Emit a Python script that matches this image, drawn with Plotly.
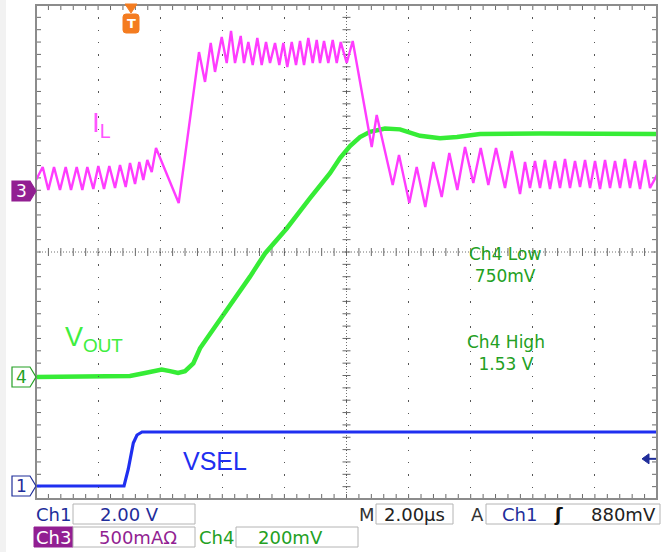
import plotly.graph_objects as go

# ---------------- data (time in µs, 0 = trigger; 2 µs/div) ----------------
time_range = [-3.06, 16.94]

# Ch1 : VSEL (V)
vsel_t = [-3.06, -0.225, -0.087, 0.074, 0.193, 0.354, 16.94]
vsel_v = [0.0, 0.0, 0.551, 1.393, 1.652, 1.749, 1.749]

# Ch4 : VOUT (V)
vout_t = [-3.06, -0.032, 0.451, 0.989, 1.256, 1.514, 1.739, 2.006, 2.222, 2.599,
          2.973, 3.832, 4.316, 5.014, 5.765, 6.409, 6.731, 7.053, 7.375, 7.697,
          8.18, 8.663, 9.308, 9.952, 10.499, 11.24, 13.172, 16.94]
vout_v = [0.750, 0.753, 0.763, 0.774, 0.769, 0.763, 0.769, 0.794, 0.843, 0.897,
          0.951, 1.075, 1.150, 1.231, 1.329, 1.410, 1.459, 1.498, 1.527, 1.544,
          1.555, 1.552, 1.531, 1.523, 1.527, 1.537, 1.539, 1.537]

# Ch3 : IL (A)
il_t = [-3.06, -2.844, -2.663, -2.48, -2.287, -2.103, -1.932, -1.749, -1.568, -1.407,
        -1.214, -1.053, -0.87, -0.699, -0.515, -0.354, -0.171, -0.032, 0.129, 0.267,
        0.396, 0.525, 0.667, 0.805, 1.536, 2.19, 2.383, 2.567, 2.705, 2.921,
        3.082, 3.221, 3.349, 3.533, 3.639, 3.778, 3.919, 4.068, 4.209, 4.348,
        4.477, 4.638, 4.776, 4.905, 5.034, 5.176, 5.314, 5.443, 5.572, 5.71,
        5.852, 5.981, 6.087, 6.216, 6.354, 6.496, 6.625, 6.754, 6.947, 7.14,
        7.752, 7.913, 8.428, 8.631, 8.963, 9.201, 9.478, 9.736, 10.006, 10.251,
        10.509, 10.757, 11.024, 11.262, 11.507, 11.755, 12.045, 12.261, 12.528, 12.689,
        12.85, 13.011, 13.172, 13.333, 13.494, 13.655, 13.816, 13.977, 14.138, 14.299,
        14.46, 14.622, 14.783, 14.944, 15.105, 15.266, 15.427, 15.588, 15.749, 15.91,
        16.071, 16.232, 16.393, 16.554, 16.715, 16.94]
il_a = [0.089, 0.194, 0.008, 0.194, 0.008, 0.194, 0.008, 0.194, 0.008, 0.194,
        0.016, 0.202, 0.016, 0.202, 0.024, 0.211, 0.032, 0.227, 0.057, 0.235,
        0.089, 0.251, 0.154, 0.348, -0.097, 1.125, 0.883, 1.198, 0.964, 1.247,
        1.036, 1.296, 1.036, 1.255, 1.036, 1.206, 1.020, 1.239, 1.020, 1.206,
        1.036, 1.198, 1.020, 1.198, 1.004, 1.206, 1.020, 1.215, 1.020, 1.239,
        1.036, 1.223, 1.036, 1.215, 1.036, 1.223, 1.036, 1.206, 1.036, 1.215,
        0.356, 0.615, 0.049, 0.291, -0.097, 0.194, -0.130, 0.235, -0.049, 0.308,
        0.008, 0.356, 0.065, 0.348, 0.049, 0.348, 0.024, 0.324, -0.024, 0.235,
        0.024, 0.243, 0.024, 0.251, 0.016, 0.243, 0.024, 0.259, 0.024, 0.243,
        0.032, 0.251, 0.024, 0.243, 0.016, 0.251, 0.024, 0.243, 0.024, 0.259,
        0.024, 0.243, 0.016, 0.251, 0.024, 0.130]

# channel vertical settings: value per division, reference position (div from bottom), value at reference
ch1_scale, ch1_ref_div, ch1_ref_val = 2.0, 0.2105, 0.0
ch3_scale, ch3_ref_div, ch3_ref_val = 0.5, 4.988, 0.0
ch4_scale, ch4_ref_div, ch4_ref_val = 0.2, 1.976, 0.75
trigger_level = 0.88

ch1_label, ch3_label, ch4_label = "2.00 V", "500mAΩ", "200mV"
time_label, trig_label = "2.00µs", "880mV"
meas_low = ("Ch4 Low", "750mV")
meas_high = ("Ch4 High", "1.53 V")

# ---------------- layout helpers ----------------
W, H = 668, 552
PL, PR, PT, PB = 36, 657, 5, 499


def fx(p):
    return (p - PL) / (PR - PL)


def fy(p):
    return (PB - p) / (PB - PT)


def ch_range(scale, ref_div, ref_val):
    return [ref_val - ref_div * scale, ref_val + (8 - ref_div) * scale]


C_MAG = '#ff3cff'
C_GRN = '#36ec36'
C_BLU = '#1f2ff0'
C_CH1 = '#1f2d9a'
C_CH3 = '#921f92'
C_CH4 = '#23a023'
C_ORG = '#f47c20'
GRID = '#555555'
TICK = '#6a6a6a'

fig = go.Figure()
fig.add_trace(go.Scatter(x=vsel_t, y=vsel_v, xaxis='x', yaxis='y2', mode='lines',
                         line=dict(color=C_BLU, width=3.2), hoverinfo='skip'))
fig.add_trace(go.Scatter(x=vout_t, y=vout_v, xaxis='x', yaxis='y3', mode='lines',
                         line=dict(color=C_GRN, width=4.5), hoverinfo='skip'))
fig.add_trace(go.Scatter(x=il_t, y=il_a, xaxis='x', yaxis='y4', mode='lines',
                         line=dict(color=C_MAG, width=2.4), hoverinfo='skip'))

shapes = []
# left light strip
shapes.append(dict(type='rect', xref='paper', yref='paper', x0=fx(0), x1=fx(6),
                   y0=fy(H), y1=fy(0), fillcolor='#f2f2f2', line=dict(width=0), layer='below'))
# center cross dotted lines
shapes.append(dict(type='line', xref='paper', yref='paper', x0=0, x1=1, y0=0.5, y1=0.5,
                   line=dict(color='#707070', width=1, dash='1px,2px'), layer='below'))
shapes.append(dict(type='line', xref='paper', yref='paper', x0=0.5, x1=0.5, y0=0, y1=1,
                   line=dict(color='#707070', width=1, dash='1px,2px'), layer='below'))
# minor ticks (1/5 division) along frame and center lines
for k in range(1, 50):
    xf = k / 50
    for ya, a, b in ((1, 0, -5), (0, 0, 5), (0.5, -4, 4)):
        shapes.append(dict(type='line', xref='paper', yref='paper', x0=xf, x1=xf,
                           ysizemode='pixel', yanchor=ya, y0=a, y1=b,
                           line=dict(color=TICK, width=1), layer='below'))
for k in range(1, 40):
    yf = k / 40
    for xa, a, b in ((0, 0, 5), (1, 0, -5), (0.5, -4, 4)):
        shapes.append(dict(type='line', xref='paper', yref='paper', y0=yf, y1=yf,
                           xsizemode='pixel', xanchor=xa, x0=a, x1=b,
                           line=dict(color=TICK, width=1), layer='below'))
# frame
shapes.append(dict(type='rect', xref='paper', yref='paper', x0=0, x1=1, y0=0, y1=1,
                   line=dict(color='#8c8c8c', width=2), layer='above'))

# channel reference markers on the left
pent = "M-24,-10 L-6,-10 L0,0 L-6,10 L-24,10 Z"
for ref_div, fill, edge in ((ch3_ref_div, C_CH3, C_CH3),
                            (ch4_ref_div, 'white', C_CH4),
                            (ch1_ref_div, 'white', C_CH1)):
    shapes.append(dict(type='path', xref='paper', yref='paper', xsizemode='pixel',
                       ysizemode='pixel', xanchor=0, yanchor=ref_div / 8, path=pent,
                       fillcolor=fill, line=dict(color=edge, width=1.2), layer='above'))

# trigger position marker (top)
t_frac = (0 - time_range[0]) / (time_range[1] - time_range[0])
shapes.append(dict(type='path', xref='paper', yref='paper', xsizemode='pixel', ysizemode='pixel',
                   xanchor=t_frac, yanchor=1, path="M-6,1 L6,1 L0,-8 Z",
                   fillcolor=C_ORG, line=dict(color=C_ORG, width=1), layer='above'))
shapes.append(dict(type='path', xref='paper', yref='paper', xsizemode='pixel', ysizemode='pixel',
                   xanchor=t_frac, yanchor=1,
                   path="M-5,-9 L5,-9 Q8,-9 8,-12 L8,-25 Q8,-28 5,-28 L-5,-28 Q-8,-28 -8,-25 L-8,-12 Q-8,-9 -5,-9 Z",
                   fillcolor=C_ORG, line=dict(color=C_ORG, width=1), layer='above'))

# trigger level marker (right)
trig_frac = (ch1_ref_div + (trigger_level - ch1_ref_val) / ch1_scale) / 8
shapes.append(dict(type='path', xref='paper', yref='paper', xsizemode='pixel', ysizemode='pixel',
                   xanchor=1, yanchor=trig_frac, path="M-15,0 L-8,5 L-8,-5 Z",
                   fillcolor=C_CH1, line=dict(color=C_CH1, width=1), layer='above'))
shapes.append(dict(type='line', xref='paper', yref='paper', xsizemode='pixel', ysizemode='pixel',
                   xanchor=1, yanchor=trig_frac, x0=-9, x1=-1, y0=0, y1=0,
                   line=dict(color=C_CH1, width=2), layer='above'))


# readout boxes
def box(x0, x1, y0, y1, fill='white', edge='#b4b4b4'):
    return dict(type='rect', xref='paper', yref='paper', x0=fx(x0), x1=fx(x1),
                y0=fy(y1), y1=fy(y0), fillcolor=fill, line=dict(color=edge, width=1), layer='above')


shapes += [box(73, 195, 504, 524), box(376, 453, 504, 524), box(486, 660, 504, 524),
           box(34, 73, 527, 547, fill=C_CH3, edge=C_CH3), box(73, 195, 527, 547),
           box(236, 358, 527, 547)]


def txt(text, x, y, color, size, family='DejaVu Sans', **kw):
    return dict(text=text, x=fx(x), y=fy(y), xref='paper', yref='paper', showarrow=False,
                xanchor='center', yanchor='middle',
                font=dict(family=family, size=size, color=color), **kw)


ann = [
    txt("3", 21, PB - ch3_ref_div * (PB - PT) / 8, 'white', 17),
    txt("4", 21, PB - ch4_ref_div * (PB - PT) / 8, C_CH4, 17),
    txt("1", 21, PB - ch1_ref_div * (PB - PT) / 8, C_CH1, 17),
    txt("<b>T</b>", 131, 24, 'white', 13),
    txt("I<sub>L</sub>", 101, 125, '#ff55ff', 28, family='Liberation Sans'),
    txt("V<sub>OUT</sub>", 94, 339, '#40ee40', 27, family='Liberation Sans'),
    txt("VSEL", 215, 461, C_BLU, 25, family='Liberation Sans'),
    txt(meas_low[0] + "<br>" + meas_low[1], 505, 265, C_CH4, 17),
    txt(meas_high[0] + "<br>" + meas_high[1], 506, 353, C_CH4, 17),
    txt("Ch1", 53, 514, C_CH1, 18),
    txt(ch1_label, 129, 514, C_CH1, 18),
    txt("M", 367, 514, '#333333', 18),
    txt(time_label, 414, 514, '#222222', 18),
    txt("A", 477, 514, '#333333', 18),
    txt("Ch1", 519, 514, C_CH1, 18),
    txt("<b>ʃ</b>", 558, 514, '#111111', 18),
    txt(trig_label, 623, 514, '#222222', 18),
    txt("Ch3", 53, 537, 'white', 18),
    txt(ch3_label, 138, 537, C_CH3, 18),
    txt("Ch4", 216, 537, C_CH4, 18),
    txt(ch4_label, 290, 537, C_CH4, 18),
]

hidden = dict(visible=False, domain=[0, 1], anchor='x', fixedrange=True)
fig.update_layout(
    width=W, height=H, autosize=False,
    margin=dict(l=PL, r=W - PR, t=PT, b=H - PB, pad=0),
    paper_bgcolor='white', plot_bgcolor='rgba(0,0,0,0)', showlegend=False,
    xaxis=dict(range=time_range, tick0=time_range[0], dtick=2, showgrid=True,
               gridcolor=GRID, gridwidth=1.4, griddash='1.4px,10.95px',
               showticklabels=False, ticks='', zeroline=False, showline=False, fixedrange=True),
    yaxis=dict(range=[0, 8], tick0=0, dtick=1, showgrid=True,
               gridcolor=GRID, gridwidth=1.4, griddash='1.4px,11.02px',
               showticklabels=False, ticks='', zeroline=False, showline=False, fixedrange=True),
    yaxis2=dict(range=ch_range(ch1_scale, ch1_ref_div, ch1_ref_val), **hidden),
    yaxis3=dict(range=ch_range(ch4_scale, ch4_ref_div, ch4_ref_val), **hidden),
    yaxis4=dict(range=ch_range(ch3_scale, ch3_ref_div, ch3_ref_val), **hidden),
    shapes=shapes,
    annotations=ann,
)

fig.write_html("out.html", config={'displayModeBar': False},
               post_script="document.body.style.margin='0';")
